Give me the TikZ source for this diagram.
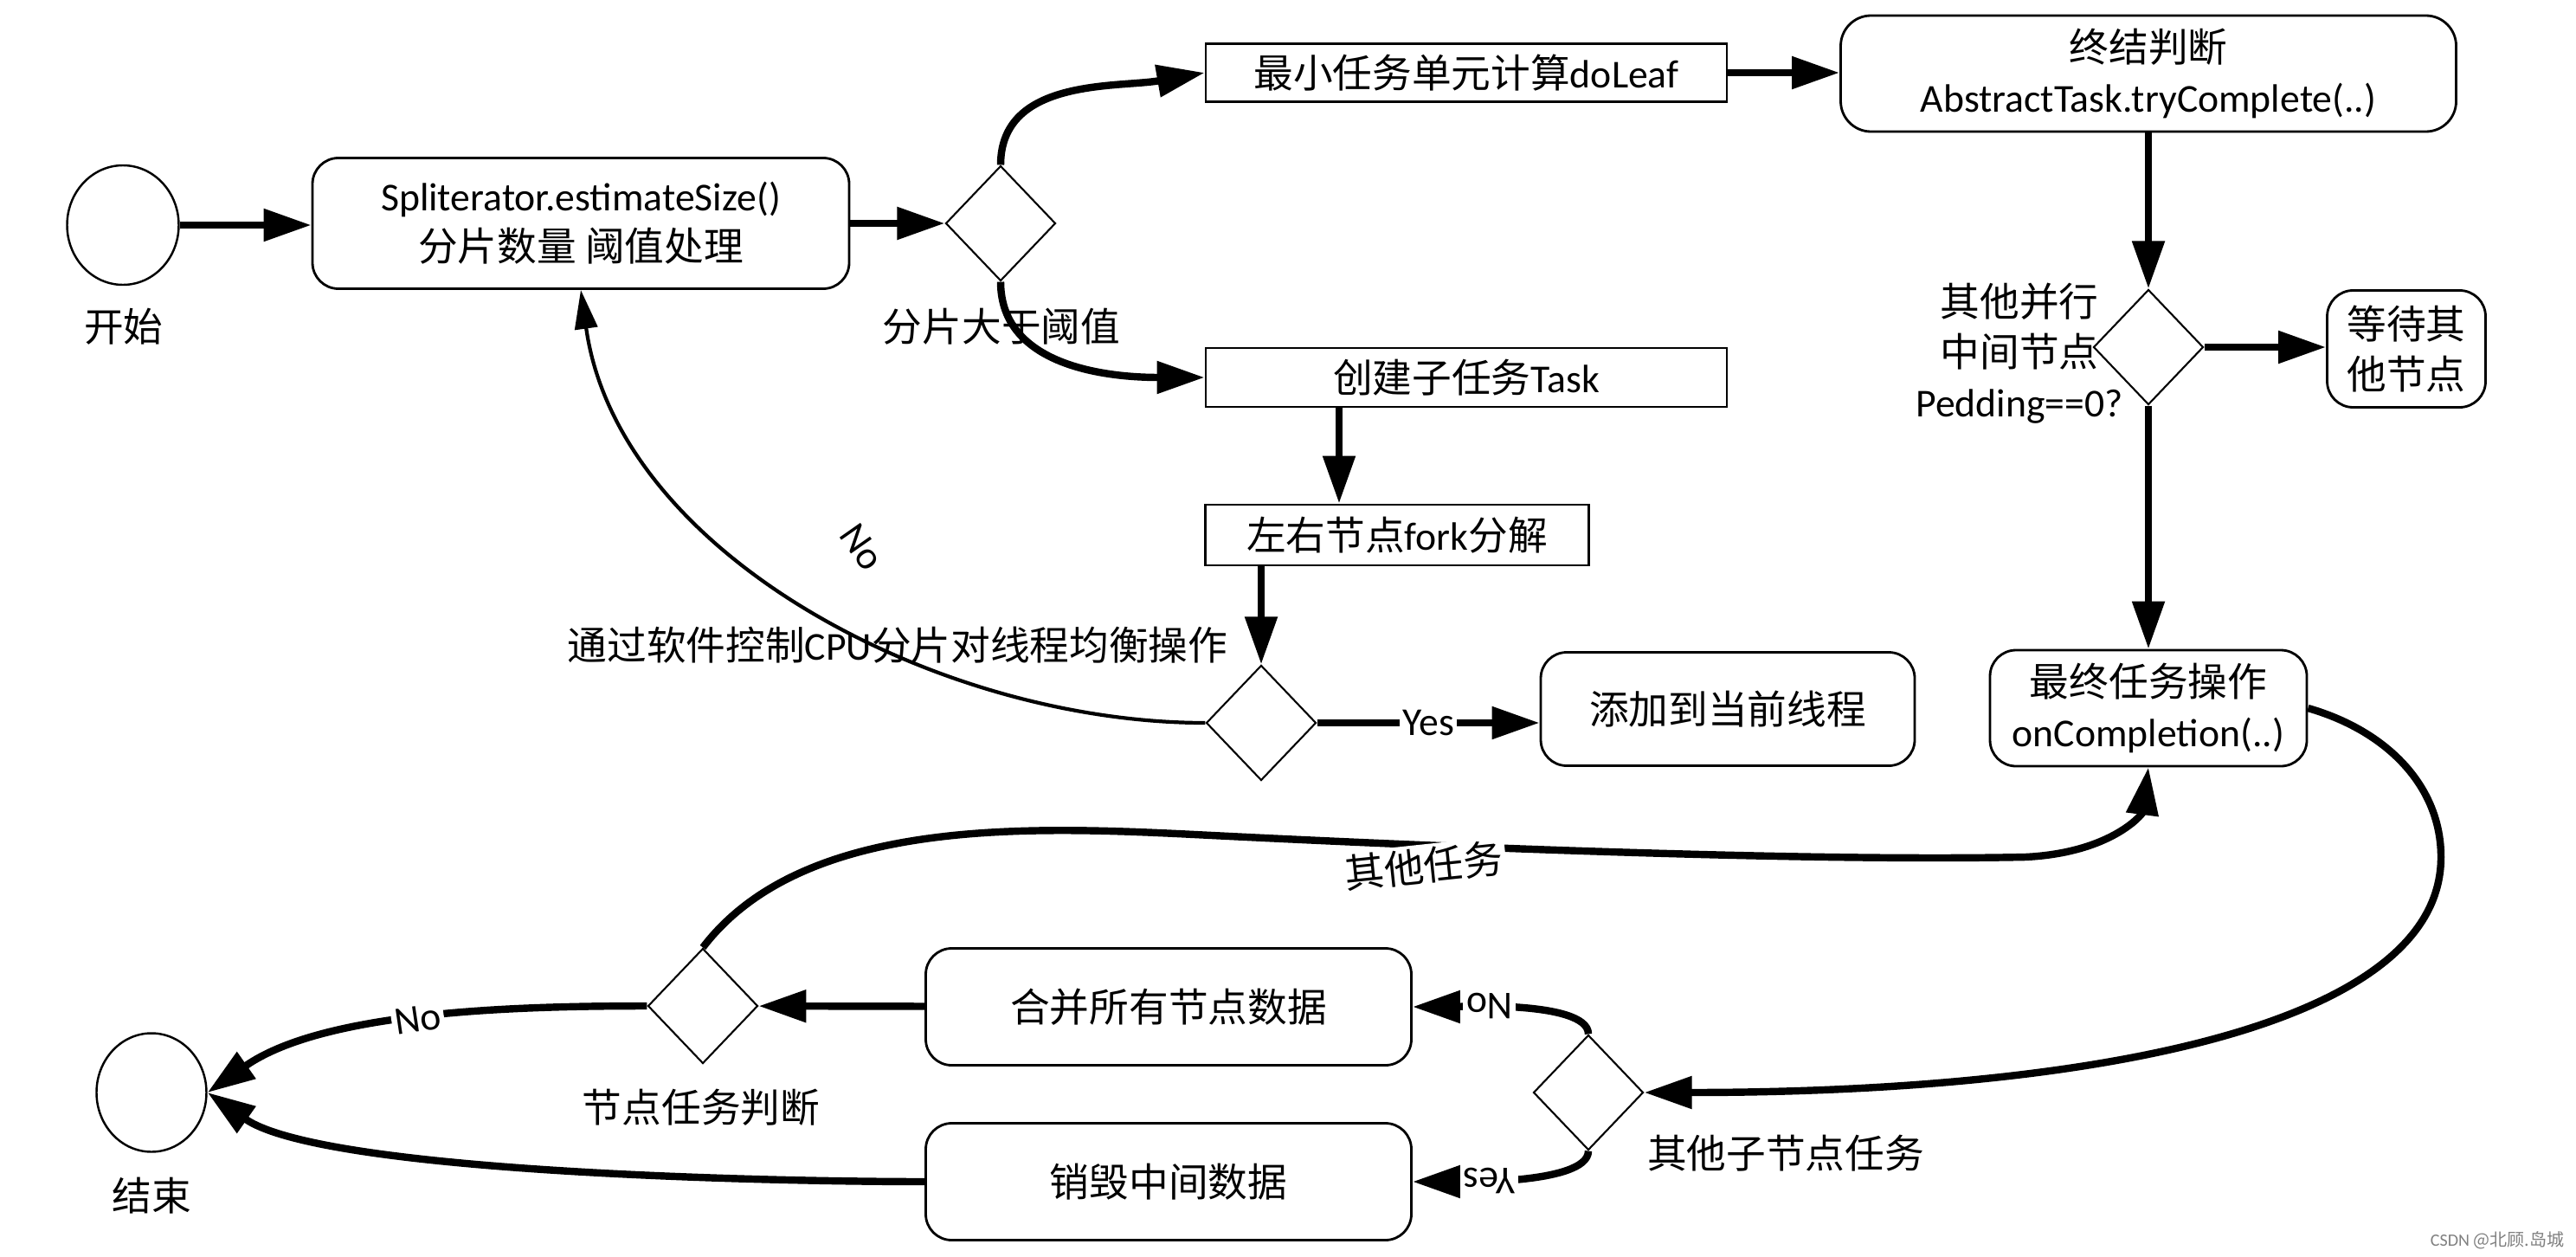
\documentclass[tikz,border=0pt]{standalone}
\usepackage{fontspec}
\setmainfont{Noto Sans CJK SC}
\newfontfamily\lat{Carlito}
\usetikzlibrary{shapes.geometric,arrows.meta,positioning}

\tikzset{
  every node/.style={font=\fontsize{13pt}{16.5pt}\selectfont},
  term/.style={ellipse, draw, line width=0.7pt, minimum width=1.29cm, minimum height=1.38cm, inner sep=0pt},
  rbox/.style={draw, rounded corners=0.3cm, line width=0.8pt, align=center, inner sep=0pt},
  sbox/.style={draw, line width=0.8pt, align=center, inner sep=0pt},
  cond/.style={diamond, draw, line width=0.6pt, minimum width=1.27cm, minimum height=1.33cm, inner sep=0pt},
  flow/.style={line width=2.4pt, -{Triangle[length=0.55cm,width=0.36cm]}},
  back/.style={line width=1.2pt, -{Triangle[length=0.45cm,width=0.26cm]}},
  tag/.style={fill=white, inner sep=1pt},
}

\begin{document}
\begin{tikzpicture}
    \useasboundingbox (0,0) rectangle (29.76,-14.52);

    \node[term] (start) at ( 1.42, -2.60) {};
    \node       (startlbl) at ( 1.43, -3.77) {开始};
    \node[rbox, minimum width=6.20cm, minimum height=1.51cm] (split) at ( 6.71, -2.58)
        {{\lat Spliterator.estimateSize()}\\分片数量 阈值处理};
    \node[cond] (d1) at (11.56, -2.58) {};
    \node       (d1lbl) at (11.57, -3.77) {分片大于阈值};
    \node[sbox, minimum width=6.02cm, minimum height=0.67cm] (leaf) at (16.94, -0.84) {最小任务单元计算{\lat doLeaf}};
    \node[sbox, minimum width=6.02cm, minimum height=0.68cm] (task) at (16.94, -4.36) {创建子任务{\lat Task}};
    \node[sbox, minimum width=4.43cm, minimum height=0.70cm] (fork) at (16.14, -6.18) {左右节点{\lat fork}分解};
    \node[cond] (d5) at (14.57, -8.35) {};
    \node       (d5lbl) at (10.37, -7.45) {通过软件控制{\lat CPU}分片对线程均衡操作};
    \node[rbox, minimum width=4.32cm, minimum height=1.31cm] (add) at (19.96, -8.19) {添加到当前线程};

    \node[rbox, rounded corners=0.35cm, minimum width=7.11cm, minimum height=1.34cm] (trycomp) at (24.82, -0.85)
        {终结判断\\{\lat AbstractTask.tryComplete(..)}};
    \node[cond] (d2) at (24.82, -4.01) {};
    \node[align=center] (d2lbl) at (23.33, -4.08) {其他并行\\中间节点\\{\lat Pedding==0?}};
    \node[rbox, minimum width=1.83cm, minimum height=1.35cm] (wait) at (27.80, -4.03) {等待其\\他节点};
    \node[rbox, minimum width=3.66cm, minimum height=1.34cm] (final) at (24.82, -8.18)
        {最终任务操作\\{\lat onCompletion(..)}};

    \node[cond] (d4) at (18.35, -12.62) {};
    \node       (d4lbl) at (20.63, -13.32) {其他子节点任务};
    \node[rbox, minimum width=5.61cm, minimum height=1.35cm] (merge) at (13.50, -11.63) {合并所有节点数据};
    \node[rbox, minimum width=5.61cm, minimum height=1.35cm] (destroy) at (13.50, -13.65) {销毁中间数据};
    \node[cond] (d3) at ( 8.12, -11.62) {};
    \node       (d3lbl) at ( 8.10, -12.79) {节点任务判断};
    \node[term, minimum width=1.27cm, minimum height=1.37cm] (end) at ( 1.75, -12.62) {};
    \node       (endlbl) at ( 1.75, -13.81) {结束};

    \draw[flow] (start.east) -- (start.east -| split.west);
    \draw[flow] (split) -- (d1);
    \draw[flow] (d1.north) to[out=90, in=190] (leaf.west);
    \draw[flow] (d1.south) to[out=-90, in=180] (task.west);
    \draw[flow] (leaf.east) -- (leaf.east -| trycomp.west);
    \draw[flow] ([xshift=-1.47cm]task.south) -- ([xshift=-0.67cm]fork.north);
    \draw[flow] (fork.south -| d5.north) -- (d5.north);
    \draw[flow] (d5.east) -- node[tag] {\lat Yes} (d5.east -| add.west);
    \draw[back] (d5.west) to[out=180, in=-82, looseness=0.9] (split.south);
    \node[rotate=-55] (nolbl) at ( 9.96, -6.32) {\lat No};

    \draw[flow] (trycomp) -- (d2);
    \draw[flow] (d2.east) -- (d2.east -| wait.west);
    \draw[flow] (d2) -- (final);

    % back from the final step down to the child-task check
    \draw[flow] (final.east) .. controls (27.6,-8.45) and (28.2,-9.1) .. (28.2,-9.9)
        .. controls (28.2,-11.9) and (24.0,-12.62) .. (d4.east);
    \draw[flow] (d4.north) to[out=90, in=0, looseness=0.5]
        node[tag, pos=0.6, rotate=180] {\lat No} (merge.east);
    \draw[flow] (d4.south) to[out=-90, in=0, looseness=0.5]
        node[tag, pos=0.6, rotate=180] {\lat Yes} (destroy.east);
    \draw[flow] (merge) -- (d3);

    \draw[flow] (d3.north) .. controls (9.3,-9.4) and (12.0,-9.55) .. (14.0,-9.65)
        .. controls (17.0,-9.8) and (21.0,-9.95) .. (23.4,-9.9)
        .. controls (24.4,-9.85) and (24.75,-9.4) .. (final.south);
    \node[tag, rotate=6] (otherlbl) at (16.45, -10.00) {其他任务};

    \draw[flow] (d3.west) to[out=180, in=35, looseness=0.8]
        node[tag, sloped] {\lat No} (end.east);
    \draw[flow] (destroy.west) to[out=180, in=-35, looseness=0.5] (end.east);

    \node[font=\fontsize{5.7pt}{7pt}\selectfont, text=gray] (mark) at (28.85, -14.33) {{\lat CSDN} @北顾.岛城};
\end{tikzpicture}
\end{document}
